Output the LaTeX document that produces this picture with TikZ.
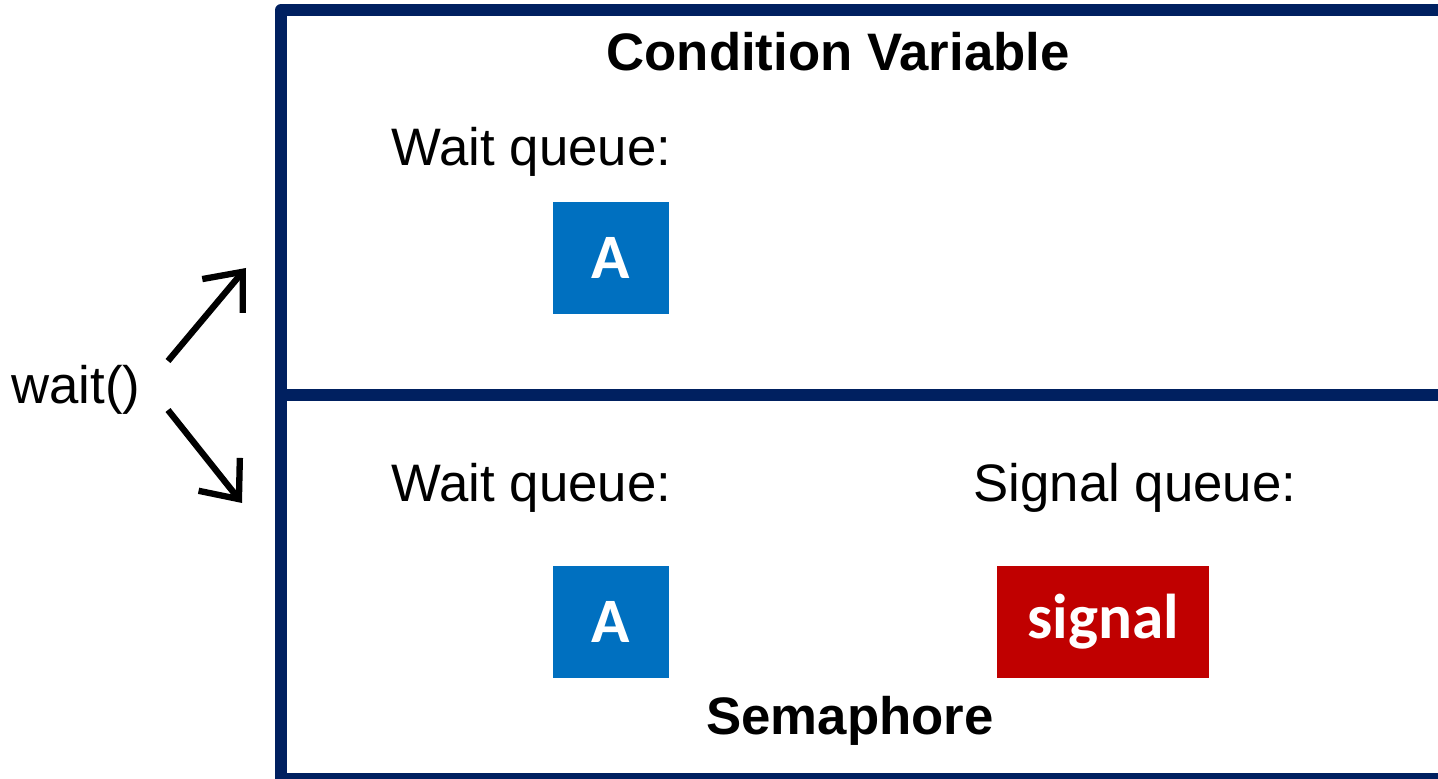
\documentclass[tikz,border=0pt]{standalone}
\usepackage{fontspec}
\setmainfont{Liberation Sans}
\newfontfamily\boxfont{Carlito}
\usepackage{tikz}
\usetikzlibrary{
  arrows.meta,%
  positioning,%
  calc
}
\definecolor{framenavy}{HTML}{002060}
\definecolor{threadblue}{HTML}{0070C0}
\definecolor{signalred}{HTML}{C00000}
\tikzset{>={Straight Barb[length=9pt,width=15pt,line width=1.8pt]}}
\tikzset{qlabel/.style={font=\fontsize{15}{18}\selectfont, inner sep=0pt}}
\tikzset{title/.style={font=\fontsize{15}{18}\selectfont\bfseries, inner sep=0pt}}
\tikzset{thread/.style={fill=threadblue, text=white, minimum width=1.16cm,
    minimum height=1.12cm, inner sep=0pt, font=\boxfont\bfseries\fontsize{18}{20}\selectfont}}
\tikzset{sigbox/.style={fill=signalred, text=white, minimum width=2.12cm,
    minimum height=1.12cm, inner sep=0pt, font=\boxfont\bfseries\fontsize{18}{20}\selectfont}}
\begin{document}
\begin{tikzpicture}[x=0.01cm, y=-0.01cm]
  \useasboundingbox (0,0) rectangle (1438,779);
  \clip (0,0) rectangle (1438,779);
  % the frame of both parts
  \draw[framenavy, line width=3.4pt, line join=round]
    (1450,10) -- (281,10) -- (281,779) -- (1450,779);
  \draw[framenavy, line width=3.4pt] (281,395) -- (1450,395);
  % condition variable
  \node[title] (cvtitle) at (838,52) {Condition Variable};
  \node[qlabel, anchor=west] (cvwait) at (391,152) {Wait queue:};
  \node[thread] (cva) at (611,258) {A};
  % semaphore
  \node[qlabel, anchor=west] (swait) at (391,488) {Wait queue:};
  \node[qlabel] (ssig) at (1135,488) {Signal queue:};
  \node[thread] (sa) at (611,622) {A};
  \node[sigbox] (sig) at (1103,622) {signal};
  \node[title] (semtitle) at (850,721) {Semaphore};
  % the call
  \node[qlabel] (wait) at (76,390) {wait()};
  \coordinate (upend) at (246,268);
  \coordinate (downend) at (242,503);
  \draw[->, line width=1.8pt] (168,361) -- (upend);
  \draw[->, line width=1.8pt] (168,410) -- (downend);
\end{tikzpicture}
\end{document}
